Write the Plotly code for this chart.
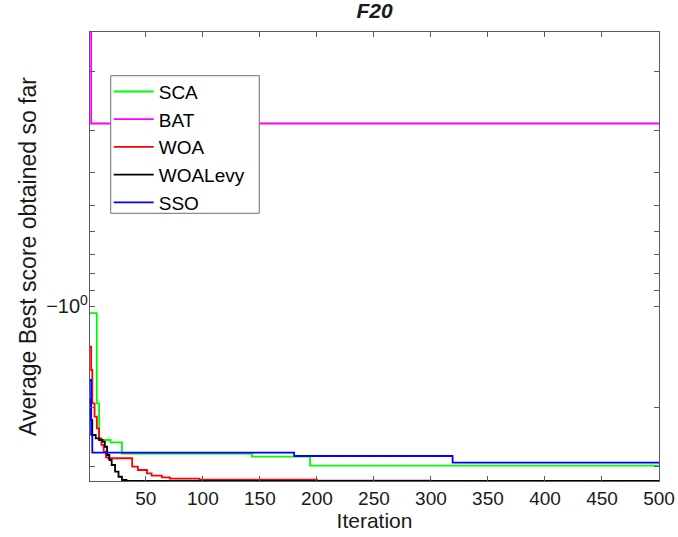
import math
import plotly.graph_objects as go

# Convergence curves (best score per iteration), stored as step breakpoints:
# each score holds from its iteration until the next breakpoint.
iterations_sca = [1, 7, 9, 19, 29, 143, 194, 500]
score_sca = [-1.049, -1.95, -2.507, -2.547, -2.75, -2.812, -2.99, -2.99]

iterations_bat = [1, 2, 500]
score_bat = [-0.152, -0.285, -0.285]

iterations_woa = [1, 2, 3, 5, 7, 9, 11, 13, 15, 17, 38, 43, 51, 55, 64, 71, 97, 200, 300, 500]
score_woa = [-1.32, -1.55, -1.948, -2.136, -2.313, -2.478, -2.594, -2.717, -2.823, -2.842,
             -3.012, -3.081, -3.151, -3.204, -3.239, -3.270, -3.293, -3.315, -3.322, -3.322]

iterations_woalevy = [1, 2, 3, 6, 9, 12, 14, 16, 18, 20, 23, 26, 29, 33, 500]
score_woalevy = [-1.90, -2.185, -2.422, -2.478, -2.507, -2.537, -2.626, -2.779, -2.876,
                 -2.977, -3.117, -3.227, -3.300, -3.322, -3.322]

iterations_sso = [1, 2, 3, 180, 319, 500]
score_sso = [-1.66, -2.42, -2.735, -2.798, -2.927, -2.927]

x_ticks = [50, 100, 150, 200, 250, 300, 350, 400, 450, 500]
# negative log axis: tick magnitudes, only -10^0 carries a label
y_tick_magnitudes = [0.2, 0.3, 0.4, 0.5, 0.6, 0.7, 0.8, 0.9, 1, 2, 3]
y_tick_labels = ["", "", "", "", "", "", "", "", "\u221210<sup>0</sup>", "", ""]

series = [
    ("SCA", iterations_sca, score_sca, "#00FF00"),
    ("BAT", iterations_bat, score_bat, "#FF00FF"),
    ("WOA", iterations_woa, score_woa, "#FF0000"),
    ("WOALevy", iterations_woalevy, score_woalevy, "#000000"),
    ("SSO", iterations_sso, score_sso, "#0000FF"),
]

FONT = "Liberation Sans, Arial, Helvetica, sans-serif"

fig = go.Figure()
for name, its, scores, color in series:
    # scores are negative: plot their magnitude on a reversed log axis
    fig.add_trace(go.Scatter(
        x=its, y=[-s for s in scores], name=name, mode="lines",
        line=dict(color=color, width=1.8, shape="hv"),
    ))

y_low, y_high = 0.152, 3.3224
axis_color = "#5a5a5a"

# framed legend background (white box with grey border, hides lines beneath)
fig.add_shape(type="rect", xref="paper", yref="paper",
              x0=0.0364, x1=0.2975, y0=0.5962, y1=0.9027,
              fillcolor="white", line=dict(color="#6e6e6e", width=1), layer="above")

fig.update_layout(
    width=678, height=537,
    margin=dict(l=90, r=19, t=32, b=56, autoexpand=False),
    paper_bgcolor="white", plot_bgcolor="white",
    font=dict(family=FONT, size=19, color="#1a1a1a"),
    title=dict(text="<b><i>F20</i></b>", x=0.5, xref="paper", xanchor="center",
               y=1 - 11 / 537, yref="container", yanchor="middle",
               font=dict(family=FONT, size=21, color="#1a1a1a")),
    showlegend=True,
    legend=dict(x=0.0329, y=0.9095, xanchor="left", yanchor="top",
                bgcolor="rgba(0,0,0,0)", borderwidth=0,
                font=dict(family=FONT, size=19, color="#000000"),
                tracegroupgap=0, itemwidth=40),
)

fig.update_xaxes(
    range=[1, 500], tickvals=x_ticks, ticks="inside", ticklen=5,
    tickcolor=axis_color, showline=True, linecolor=axis_color, linewidth=1.2,
    mirror="ticks", showgrid=False, zeroline=False, automargin=False,
    tickfont=dict(family=FONT, size=19, color="#1a1a1a"),
    title=dict(text="Iteration", standoff=2, font=dict(family=FONT, size=21, color="#1a1a1a")),
)

fig.update_yaxes(
    type="log", range=[math.log10(y_high), math.log10(y_low)],
    tickvals=y_tick_magnitudes, ticktext=y_tick_labels,
    ticks="inside", ticklen=5, tickcolor=axis_color, ticklabelstandoff=-3,
    showline=True, linecolor=axis_color, linewidth=1.2, mirror="ticks",
    showgrid=False, zeroline=False, automargin=False,
    tickfont=dict(family=FONT, size=20, color="#1a1a1a"),
    title=dict(text="Average Best score obtained so far", standoff=3,
               font=dict(family=FONT, size=23, color="#1a1a1a")),
)

fig.write_html("out.html")
